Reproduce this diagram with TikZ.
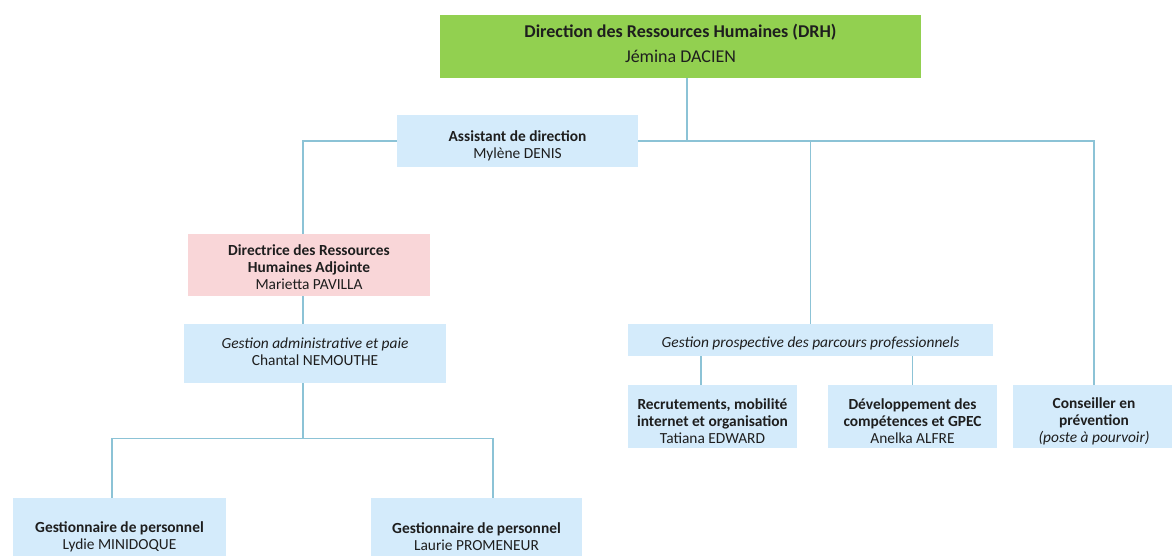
\documentclass[tikz,border=0pt]{standalone}
\usepackage{fontspec}
\setmainfont{Carlito}
\usetikzlibrary{calc,backgrounds}
\definecolor{greenbox}{HTML}{92D050}
\definecolor{bluebox}{HTML}{D4EBFB}
\definecolor{pinkbox}{HTML}{F9D6D8}
\definecolor{linec}{HTML}{8CC3D6}
\definecolor{txt}{HTML}{1E1E1E}
\tikzset{
  orgtext/.style={inner sep=0pt, align=center, text=txt,
    font=\fontsize{15.4}{17}\selectfont},
  orgbox/.style={rectangle, inner sep=0pt},
  bluenode/.style={orgbox, fill=bluebox},
  pinknode/.style={orgbox, fill=pinkbox},
  greennode/.style={orgbox, fill=greenbox},
  conn/.style={draw=linec, line width=1.2pt}
}
\begin{document}
\begin{tikzpicture}[x=1pt,y=-1pt]
\clip (0,0) rectangle (1172,555);
% boxes
\node[greennode, minimum width=481pt, minimum height=63pt,
  label={[orgtext, font=\fontsize{18}{20}\selectfont, yshift=3pt]center:{\textbf{Direction des Ressources Humaines (DRH)}\\[5pt]Jémina DACIEN}}]
  (drh) at (680.5,46.5) {};
\node[bluenode, minimum width=241pt, minimum height=52pt,
  label={[orgtext, yshift=-5pt]center:{\textbf{Assistant de direction}\\Mylène DENIS}}]
  (asst) at (517.5,141) {};
\node[pinknode, minimum width=242pt, minimum height=62pt,
  label={[orgtext, yshift=-2pt]center:{\textbf{Directrice des Ressources}\\\textbf{Humaines Adjointe}\\Marietta PAVILLA}}]
  (dir) at (309,265) {};
\node[bluenode, minimum width=262pt, minimum height=59pt,
  label={[orgtext, yshift=1.5pt]center:{\textit{Gestion administrative et paie}\\Chantal NEMOUTHE}}]
  (gadm) at (315,353.5) {};
\node[bluenode, minimum width=365pt, minimum height=32pt,
  label={[orgtext, yshift=-3pt]center:{\textit{Gestion prospective des parcours professionnels}}}]
  (gpp) at (810.5,340) {};
\node[bluenode, minimum width=169pt, minimum height=63pt,
  label={[orgtext, yshift=-4.5pt]center:{\textbf{Recrutements, mobilité}\\\textbf{internet et organisation}\\Tatiana EDWARD}}]
  (recr) at (712.5,416.5) {};
\node[bluenode, minimum width=169pt, minimum height=63pt,
  label={[orgtext, yshift=-4.5pt]center:{\textbf{Développement des}\\\textbf{compétences et GPEC}\\Anelka ALFRE}}]
  (dev) at (912.5,416.5) {};
\node[bluenode, minimum width=162pt, minimum height=63pt,
  label={[orgtext, yshift=-4.5pt]center:{\textbf{Conseiller en}\\\textbf{prévention}\\\textit{(poste à pourvoir)}}}]
  (cons) at (1094,416.5) {};
\node[bluenode, minimum width=213pt, minimum height=72pt,
  label={[orgtext, yshift=-2.5pt]center:{\textbf{Gestionnaire de personnel}\\Lydie MINIDOQUE}}]
  (g1) at (119.5,534) {};
\node[bluenode, minimum width=211pt, minimum height=72pt,
  label={[orgtext, yshift=-2.5pt]center:{\textbf{Gestionnaire de personnel}\\Laurie PROMENEUR}}]
  (g2) at (476.5,534) {};
% connectors, behind the boxes
\coordinate (drhs) at ($(drh.south)+(6.5,0)$);
\coordinate (dirn) at ($(dir.north)+(-6,0)$);
\coordinate (split) at ($(gadm.south)+(-12,55.5)$);
\coordinate (g1n) at ($(g1.north)+(-7.5,0)$);
\coordinate (g2n) at ($(g2.north)+(16.5,0)$);
\coordinate (recn) at ($(recr.north)+(-11.5,0)$);
\begin{scope}[on background layer]
\fill[white] (0,0) rectangle (1172,555);
\draw[conn] (drhs) -- (drhs |- asst.east);
\draw[conn] (dirn) |- (asst.west);
\draw[conn] (asst.east) -| (cons.north);
\draw[conn] (gpp.north) -- (gpp.north |- asst.east);
\draw[conn] (dirn |- dir.south) -- (dirn |- gadm.north);
\draw[conn] (dirn |- gadm.south) -- (split);
\draw[conn] (g1n) |- (split) -| (g2n);
\draw[conn] (recn |- gpp.south) -- (recn);
\draw[conn] (dev.north |- gpp.south) -- (dev.north);
\end{scope}
\end{tikzpicture}
\end{document}
